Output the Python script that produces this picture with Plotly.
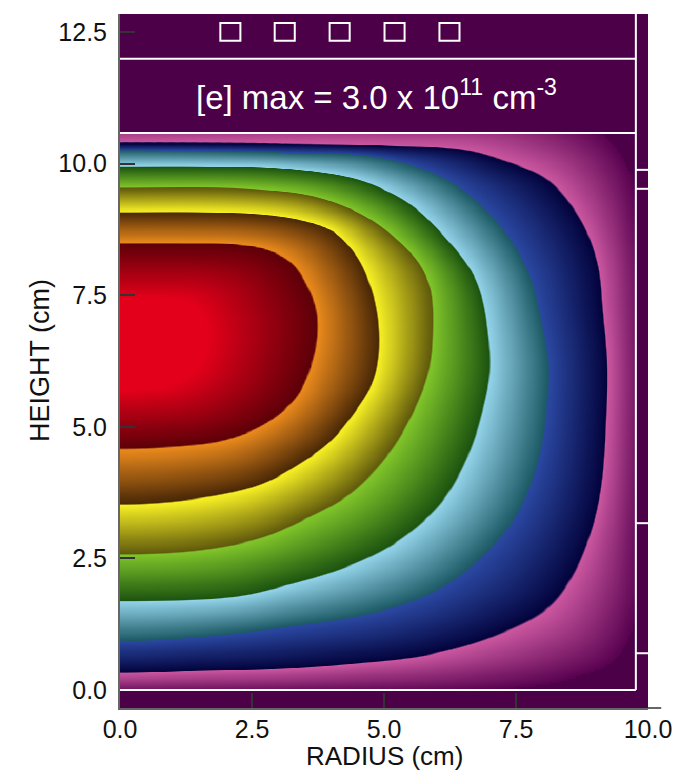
import numpy as np
import plotly.graph_objects as go

# ---------------- data ----------------
# Contour boundaries of the electron density, (radius, height) in cm,
# traced from the axis (bottom) round the right side back to the axis (top).
# L1 = outer edge of magenta band ... L7 = edge of the red core.
L1_r = [0.0, 4.0, 7.0, 8.5, 9.4, 9.8, 9.9, 9.95, 9.9, 9.6, 8.8, 5.0, 0.0]
L1_z = [-0.08, -0.06, 0.0, 0.2, 0.6, 1.5, 3.0, 6.2, 8.5, 10.0, 10.8, 11.0, 11.0]
L2_r = [0, 1.51, 3.02, 4.29, 5.86, 7.13, 8.07, 8.56, 8.92, 9.10, 9.19, 9.21, 9.13, 9.02, 8.70, 8.07, 7.18, 6.48, 4.91, 0]
L2_z = [0.34, 0.38, 0.42, 0.51, 0.70, 1.08, 1.58, 2.22, 3.10, 3.93, 5.13, 6.21, 7.16, 8.11, 8.93, 9.69, 10.07, 10.26, 10.35, 10.39]
L3_r = [0, 1.51, 3.02, 4.91, 6.05, 6.94, 7.56, 7.94, 8.07, 8.09, 7.94, 7.69, 7.13, 6.18, 4.91, 3.02, 0]
L3_z = [0.95, 1.03, 1.20, 1.52, 1.96, 2.66, 3.48, 4.56, 5.51, 6.21, 7.09, 7.98, 8.87, 9.69, 10.11, 10.22, 10.26]
L4_r = [0, 2.14, 3.02, 4.29, 5.24, 6.05, 6.56, 6.84, 6.98, 6.94, 6.82, 6.62, 6.18, 5.54, 4.91, 4.29, 3.02, 1.51, 0]
L4_z = [1.71, 1.79, 1.98, 2.37, 2.85, 3.57, 4.46, 5.32, 6.08, 6.84, 7.50, 7.98, 8.55, 9.18, 9.54, 9.75, 9.92, 9.95, 9.95]
L5_r = [0, 1.51, 2.65, 3.40, 4.35, 5.10, 5.58, 5.82, 5.90, 5.86, 5.67, 5.24, 4.59, 3.65, 2.46, 0]
L5_z = [2.60, 2.68, 2.91, 3.23, 3.76, 4.56, 5.41, 6.08, 6.84, 7.60, 8.07, 8.55, 9.02, 9.38, 9.52, 9.54]
L6_r = [0, 1.51, 2.65, 3.40, 3.97, 4.44, 4.73, 4.86, 4.88, 4.78, 4.54, 4.25, 3.97, 3.40, 2.65, 1.51, 0]
L6_z = [3.55, 3.67, 3.93, 4.33, 4.75, 5.32, 5.79, 6.27, 6.84, 7.47, 8.11, 8.51, 8.74, 8.93, 9.04, 9.08, 9.08]
L7_r = [0, 0.95, 1.89, 2.55, 3.02, 3.36, 3.59, 3.71, 3.69, 3.53, 3.25, 2.78, 2.14, 1.13, 0]
L7_z = [4.60, 4.64, 4.75, 4.98, 5.28, 5.64, 6.17, 6.74, 7.22, 7.66, 8.09, 8.36, 8.47, 8.49, 8.49]
peak_z = 6.6                      # height of the density maximum on axis

# band colours: dark edge (low density side) -> bright edge (high density side)
band_names = ["magenta", "navy", "light blue", "green", "yellow", "orange", "red"]
band_dark = ["#56004e", "#03033c", "#1d5a66", "#1c5410", "#615a0c", "#4a2806", "#5c0008"]
band_bright = ["#c9569f", "#2a47a0", "#92d2e8", "#80c42a", "#f6ef24", "#e9891c", "#e2001a"]
background = "#4b0047"

# chamber geometry
r_wall = 9.77
z_floor = 0.0
z_top_plasma = 10.58
z_top_box = 11.99
wall_marks_z = [9.88, 9.52, 3.17, 0.70]
coil_r = [2.09, 3.12, 4.16, 5.20, 6.24]
coil_z = [12.5, 12.5, 12.5, 12.5, 12.5]
coil_w, coil_h = 0.38, 0.34

x_ticks = [0, 2.5, 5, 7.5, 10]
x_ticktext = ["0.0", "2.5", "5.0", "7.5", "10.0"]
y_ticks = [0, 2.5, 5, 7.5, 10, 12.5]
y_ticktext = ["0.0", "2.5", "5.0", "7.5", "10.0", "12.5"]
label_text = "[e] max = 3.0 x 10<sup>11</sup> cm<sup>-3</sup>"
x_title = "RADIUS (cm)"
y_title = "HEIGHT (cm)"

# ---------------- build the density table from the contours ----------------
levels = [(L1_r, L1_z), (L2_r, L2_z), (L3_r, L3_z), (L4_r, L4_z),
          (L5_r, L5_z), (L6_r, L6_z), (L7_r, L7_z)]


def smooth_curve(rr, zz, n=24):
    """centripetal Catmull-Rom through the traced points (mirrored at the axis)."""
    P = np.column_stack([rr, zz]).astype(float)
    first = np.array([-P[1, 0], P[1, 1]])
    last = np.array([-P[-2, 0], P[-2, 1]])
    E = np.vstack([first, P, last])
    out = []
    for i in range(1, len(E) - 2):
        p0, p1, p2, p3 = E[i - 1], E[i], E[i + 1], E[i + 2]
        t0 = 0.0
        t1 = t0 + max(np.linalg.norm(p1 - p0), 1e-6) ** 0.5
        t2 = t1 + max(np.linalg.norm(p2 - p1), 1e-6) ** 0.5
        t3 = t2 + max(np.linalg.norm(p3 - p2), 1e-6) ** 0.5
        t = np.linspace(t1, t2, n, endpoint=False)[:, None]
        a1 = (t1 - t) / (t1 - t0) * p0 + (t - t0) / (t1 - t0) * p1
        a2 = (t2 - t) / (t2 - t1) * p1 + (t - t1) / (t2 - t1) * p2
        a3 = (t3 - t) / (t3 - t2) * p2 + (t - t2) / (t3 - t2) * p3
        b1 = (t2 - t) / (t2 - t0) * a1 + (t - t0) / (t2 - t0) * a2
        b2 = (t3 - t) / (t3 - t1) * a2 + (t - t1) / (t3 - t1) * a3
        out.append((t2 - t) / (t2 - t1) * b1 + (t - t1) / (t2 - t1) * b2)
    out.append(P[-1][None, :])
    C = np.vstack(out)
    return C[:, 0], C[:, 1]


def polar_profile(rr, zz):
    pr, pz = smooth_curve(rr, zz)
    th = np.arctan2(pz - peak_z, pr)
    rho = np.hypot(pr, pz - peak_z)
    o = np.argsort(th)
    return th[o], rho[o]


r_grid = np.linspace(0, r_wall, 246)
z_grid = np.linspace(z_floor, z_top_plasma, 267)
R, Z = np.meshgrid(r_grid, z_grid)
TH = np.arctan2(Z - peak_z, R)
RH = np.hypot(R, Z - peak_z)
bounds = []
for rr, zz in levels:
    th_k, rho_k = polar_profile(rr, zz)
    bounds.append(np.interp(TH, th_k, rho_k))
bounds.append(np.zeros_like(RH))

dens = np.full(RH.shape, 0.5)
for j in range(7):
    outer, inner = bounds[j], bounds[j + 1]
    m = (RH < outer) & (RH >= inner)
    dens = np.where(m, (j + 1) + (outer - RH) / np.maximum(outer - inner, 1e-6), dens)
dens = np.round(dens, 3)

aa = 0.03  # tiny blend at each band edge (anti-aliasing)
colorscale = [[0.0, background], [1 / 8, background]]
for k in range(7):
    lo = (k + 1) / 8
    hi = (k + 2) / 8
    colorscale.append([lo, band_dark[k]])
    if band_names[k] == "red":
        colorscale.append([lo + 0.55 / 8, band_bright[k]])
        colorscale.append([hi, band_bright[k]])
    else:
        colorscale.append([hi - aa / 8, band_bright[k]])

fig = go.Figure()
fig.add_trace(go.Heatmap(
    x=r_grid, y=z_grid, z=dens, zmin=0, zmax=8, zsmooth="best",
    colorscale=colorscale, showscale=False, hoverinfo="skip"))

# ---------------- chamber outline, wall marks, coils ----------------
W = "white"
shapes = [
    dict(type="line", x0=0, x1=r_wall, y0=z_floor, y1=z_floor),
    dict(type="line", x0=r_wall, x1=r_wall, y0=z_floor, y1=12.84),
    dict(type="line", x0=0, x1=r_wall, y0=z_top_plasma, y1=z_top_plasma),
    dict(type="line", x0=0, x1=r_wall, y0=z_top_box, y1=z_top_box),
]
for zm in wall_marks_z:
    shapes.append(dict(type="line", x0=r_wall, x1=10, y0=zm, y1=zm))
for cr, cz in zip(coil_r, coil_z):
    shapes.append(dict(type="rect", x0=cr - coil_w / 2, x1=cr + coil_w / 2,
                       y0=cz - coil_h / 2, y1=cz + coil_h / 2))
for s in shapes:
    s.update(xref="x", yref="y", layer="above", line=dict(color=W, width=2))
# small overshoot of the radius axis line beyond 10 cm
shapes.append(dict(type="line", xref="paper", yref="paper", x0=1.0, x1=1.025, y0=0, y1=0,
                   line=dict(color="#666666", width=2), layer="above"))

FONT = "Liberation Sans, Arial, Helvetica, sans-serif"
fig.update_layout(
    width=696, height=773,
    margin=dict(l=120, r=48, t=14, b=65, autoexpand=False),
    paper_bgcolor="white", plot_bgcolor=background,
    font=dict(family=FONT, size=25, color="#111111"),
    shapes=shapes,
    annotations=[
        dict(x=4.86, y=11.30, xref="x", yref="y", text=label_text, showarrow=False,
             font=dict(family=FONT, size=33, color="white")),
        dict(x=0.5, y=-0.0685, xref="paper", yref="paper", text=x_title, showarrow=False,
             xanchor="center", yanchor="middle", font=dict(family=FONT, size=26, color="#111111")),
        dict(x=-0.1515, y=0.5, xref="paper", yref="paper", text=y_title, showarrow=False,
             textangle=-90, xanchor="center", yanchor="middle",
             font=dict(family=FONT, size=27, color="#111111")),
    ],
    xaxis=dict(range=[0, 10], tickvals=x_ticks, ticktext=x_ticktext, ticks="inside",
               ticklen=15, tickwidth=2, tickcolor="#333333", showline=True, linecolor="#666666",
               linewidth=2, showgrid=False, zeroline=False, ticklabelstandoff=-2,
               automargin=False),
    yaxis=dict(range=[-0.34, 12.84], tickvals=y_ticks, ticktext=y_ticktext, ticks="inside",
               ticklen=15, tickwidth=2, tickcolor="#333333", showline=True, linecolor="#666666",
               linewidth=2, showgrid=False, zeroline=False, ticklabelstandoff=6,
               automargin=False),
)
fig.write_html("out.html")
